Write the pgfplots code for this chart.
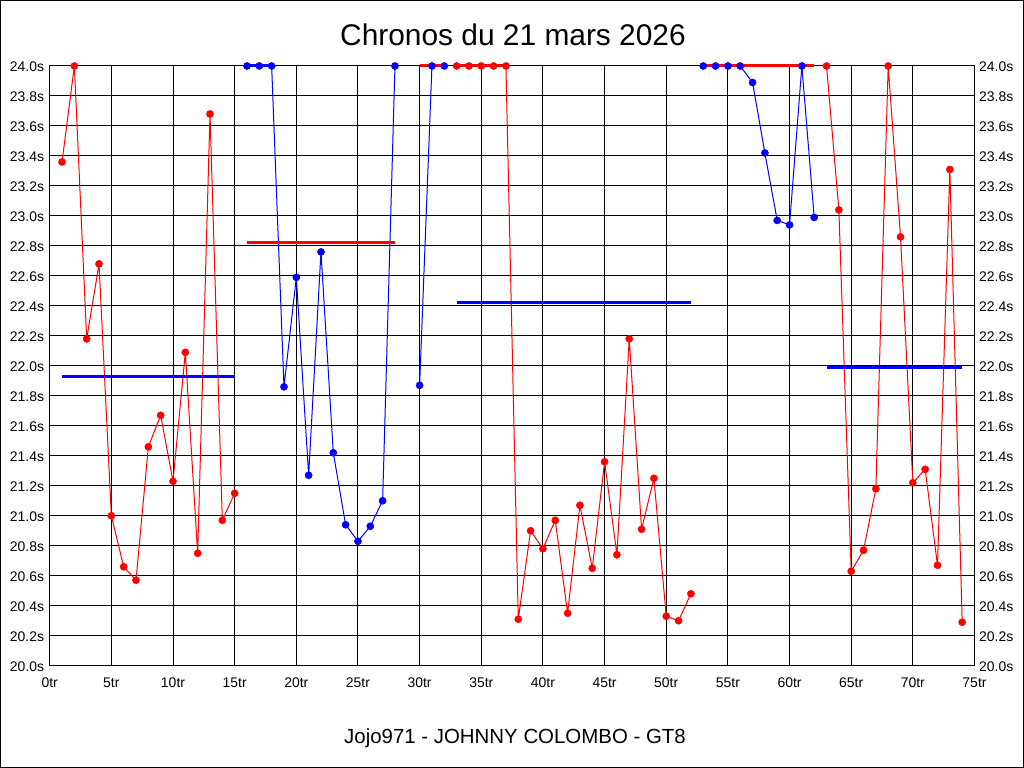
\documentclass[border=0pt]{standalone}
\usepackage{fontspec}
\setmainfont{Liberation Sans}
\usepackage{pgfplots}
\pgfplotsset{compat=1.18}
\definecolor{rr}{RGB}{255,0,0}
\definecolor{bb}{RGB}{0,0,255}
\pgfplotsset{
  geom/.style={at={(49.7bp,102.3bp)}, anchor=south west, scale only axis,
    width=924.8bp, height=599.7bp, xmin=0, xmax=75, ymin=20, ymax=24,
    ytick={20,20.2,20.4,20.6,20.8,21,21.2,21.4,21.6,21.8,22,22.2,22.4,22.6,22.8,23,23.2,23.4,23.6,23.8,24},
    major tick length=0pt,
    /pgf/number format/assume math mode=true,
    tick label style={font=\fontsize{14}{16}\selectfont},
    yticklabel={\pgfmathprintnumber[fixed,fixed zerofill,precision=1]{\tick}s},
    clip=false},
  dl/.style={line width=1bp, mark=none},
  mk/.style={only marks, mark=*, mark size=3.6bp},
  mean/.style={line width=3bp, mark=none},
}
\begin{document}
\begin{tikzpicture}
\useasboundingbox (0,0) rectangle (1024bp,768bp);
\fill[white] (0,0) rectangle (1024bp,768bp);
\draw[black,line width=1bp] (0.5bp,0.5bp) rectangle (1023.5bp,767.5bp);
\node[font=\fontsize{30}{35}\selectfont, anchor=base, inner sep=0pt] at (513bp,722bp) {Chronos du 21 mars 2026};
\node[font=\fontsize{20.5}{24}\selectfont, anchor=base, inner sep=0pt] at (515bp,25bp) {Jojo971 - JOHNNY COLOMBO - GT8};
\begin{axis}[geom,
  xtick={0,5,...,75},
  xticklabel={\pgfmathprintnumber{\tick}tr},
  xticklabel style={inner sep=0pt, yshift=-12bp},
  yticklabel style={inner sep=0pt, xshift=-5.5bp, yshift=-1bp},
  grid=major, major grid style={black, line width=1bp},
  axis line style={black, line width=1bp},
]
% stint 1 (red)
\addplot[rr, dl] coordinates {(1,23.36)(2,24.0)(3,22.18)(4,22.68)(5,21.00)(6,20.66)(7,20.57)(8,21.46)(9,21.67)(10,21.23)(11,22.09)(12,20.75)(13,23.68)(14,20.97)(15,21.15)};
% stint 2 (blue)
\addplot[bb, dl] coordinates {(16,24.0)(17,24.0)(18,24.0)(19,21.86)(20,22.59)(21,21.27)(22,22.76)(23,21.42)(24,20.94)(25,20.83)(26,20.93)(27,21.10)(28,24.0)};
\addplot[bb, mean] coordinates {(16,24.0)(18,24.0)};
% stint 3 (blue)
\addplot[bb, dl] coordinates {(30,21.87)(31,24.0)(32,24.0)};
% stint 4 (red)
\addplot[rr, dl] coordinates {(33,24.0)(34,24.0)(35,24.0)(36,24.0)(37,24.0)(38,20.31)(39,20.90)(40,20.78)(41,20.97)(42,20.35)(43,21.07)(44,20.65)(45,21.36)(46,20.74)(47,22.18)(48,20.91)(49,21.25)(50,20.33)(51,20.30)(52,20.48)};
\addplot[rr, mean] coordinates {(33,24.0)(37,24.0)};
% stint 5 (blue)
\addplot[bb, dl] coordinates {(53,24.0)(54,24.0)(55,24.0)(56,24.0)(57,23.89)(58,23.42)(59,22.97)(60,22.94)(61,24.0)(62,22.99)};
% stint 6 (red)
\addplot[rr, dl] coordinates {(63,24.0)(64,23.04)(65,20.63)(66,20.77)(67,21.18)(68,24.0)(69,22.86)(70,21.22)(71,21.31)(72,20.67)(73,23.31)(74,20.29)};
% mean lines
\addplot[bb, mean] coordinates {(1,21.93)(15,21.93)};
\addplot[rr, mean] coordinates {(16,22.82)(28,22.82)};
\addplot[rr, mean] coordinates {(30,24.0)(32,24.0)};
\addplot[bb, mean] coordinates {(33,22.42)(52,22.42)};
\addplot[rr, mean] coordinates {(53,24.0)(62,24.0)};
\addplot[bb, mean] coordinates {(63,21.99)(74,21.99)};
% markers
\addplot[rr, mk] coordinates {(1,23.36)(2,24.0)(3,22.18)(4,22.68)(5,21.00)(6,20.66)(7,20.57)(8,21.46)(9,21.67)(10,21.23)(11,22.09)(12,20.75)(13,23.68)(14,20.97)(15,21.15)};
\addplot[bb, mk] coordinates {(16,24.0)(17,24.0)(18,24.0)(19,21.86)(20,22.59)(21,21.27)(22,22.76)(23,21.42)(24,20.94)(25,20.83)(26,20.93)(27,21.10)(28,24.0)};
\addplot[bb, mk] coordinates {(30,21.87)(31,24.0)(32,24.0)};
\addplot[rr, mk] coordinates {(33,24.0)(34,24.0)(35,24.0)(36,24.0)(37,24.0)(38,20.31)(39,20.90)(40,20.78)(41,20.97)(42,20.35)(43,21.07)(44,20.65)(45,21.36)(46,20.74)(47,22.18)(48,20.91)(49,21.25)(50,20.33)(51,20.30)(52,20.48)};
\addplot[bb, mk] coordinates {(53,24.0)(54,24.0)(55,24.0)(56,24.0)(57,23.89)(58,23.42)(59,22.97)(60,22.94)(61,24.0)(62,22.99)};
\addplot[rr, mk] coordinates {(63,24.0)(64,23.04)(65,20.63)(66,20.77)(67,21.18)(68,24.0)(69,22.86)(70,21.22)(71,21.31)(72,20.67)(73,23.31)(74,20.29)};
\end{axis}
\begin{axis}[geom,
  xtick=\empty,
  yticklabel pos=right,
  yticklabel style={inner sep=0pt, xshift=4.5bp, yshift=-1bp},
  axis line style={draw=none},
]
\end{axis}
\end{tikzpicture}
\end{document}
